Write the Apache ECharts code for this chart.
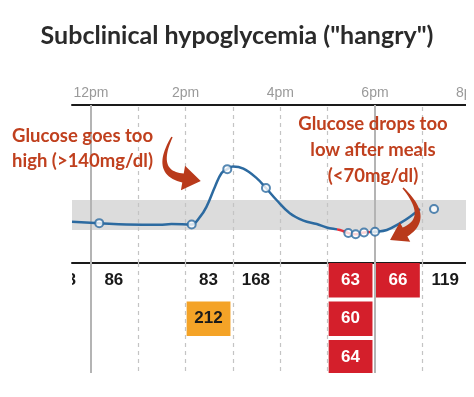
<!DOCTYPE html>
<html>
<head>
<meta charset="utf-8">
<title>Subclinical hypoglycemia</title>
<script src="https://cdn.jsdelivr.net/npm/echarts@6/dist/echarts.min.js"></script>
<style>
    * { margin: 0; padding: 0; }
    html, body { width: 100%; height: 100%; overflow: hidden; background: #fff; }
    .container { width: 474px; height: 397px; }
</style>
</head>
<body>
<div class="container"></div>
<script>
    // CGM trace: hour of day, mg/dl
    let cgmTimes = [11.6, 12.175, 12.75, 13.45, 13.7, 14.128, 14.3, 14.44, 14.62, 14.76, 14.88, 15.0, 15.22, 15.5, 15.697,
        15.92, 16.2, 16.49, 16.77, 16.98, 17.26, 17.436, 17.592, 17.768, 18.0, 18.25, 18.53, 18.74, 18.95];
    let cgmValues = [89, 86, 83, 82, 84, 83, 100, 124, 171, 203, 212, 218, 213, 191, 168,
        140, 109, 92, 84, 76, 70, 63, 60, 64, 66, 70, 86, 101, 119];
    // finger stick readings (circles + table below)
    let readingTimes = [11.5, 12.175, 14.128, 14.88, 15.697, 17.436, 17.592, 17.768, 18.0, 19.247];
    let readingValues = [88, 86, 83, 212, 168, 63, 60, 64, 66, 119];
    let hourLines = [12, 13, 14, 15, 16, 17, 18, 19];
    let solidHours = [12, 18];
    let labelHours = [12, 14, 16, 18, 20];
    let targetRange = [70, 140];

    const BLUE = '#2c6aa0', RED = '#d41f2b', ORANGE = '#f4a327', NOTE = '#c0401e';

    let chart = echarts.init(document.getElementsByClassName('container')[0], null, {renderer: 'canvas'});

    let cgm = cgmTimes.map((t, i) => [t, cgmValues[i]]);
    let readings = readingTimes.map((t, i) => [t, readingValues[i]]);

    // bin readings by hour, stacking rows inside an hour
    let cells = [];
    let rowCount = {};
    readingTimes.forEach((t, i) => {
        let h = Math.floor(t);
        rowCount[h] = (rowCount[h] || 0);
        cells.push([h, rowCount[h], readingValues[i]]);
        rowCount[h]++;
    });

    function vLines() {
        return {
            silent: true,
            symbol: 'none',
            label: {show: false},
            data: hourLines.map(h => ({
                xAxis: h,
                lineStyle: solidHours.includes(h)
                    ? {color: '#b4b4b4', width: 2, type: 'solid'}
                    : {color: '#c4c4c4', width: 1.2, type: [4, 4]}
            }))
        };
    }

    function arrowPoints(p0, c, p2, w0, w1, headLen, headHalf) {
        let left = [], right = [];
        for (let i = 0; i <= 24; i++) {
            let t = i / 24, u = 1 - t;
            let x = u * u * p0[0] + 2 * u * t * c[0] + t * t * p2[0];
            let y = u * u * p0[1] + 2 * u * t * c[1] + t * t * p2[1];
            let dx = 2 * u * (c[0] - p0[0]) + 2 * t * (p2[0] - c[0]);
            let dy = 2 * u * (c[1] - p0[1]) + 2 * t * (p2[1] - c[1]);
            let len = Math.hypot(dx, dy);
            let w = (w0 + (w1 - w0) * t) / 2;
            left.push([x - dy / len * w, y + dx / len * w]);
            right.push([x + dy / len * w, y - dx / len * w]);
        }
        let dx = p2[0] - c[0], dy = p2[1] - c[1], len = Math.hypot(dx, dy);
        dx /= len; dy /= len;
        let head = [
            [p2[0] - dy * headHalf, p2[1] + dx * headHalf],
            [p2[0] + dx * headLen, p2[1] + dy * headLen],
            [p2[0] + dy * headHalf, p2[1] - dx * headHalf]
        ];
        return left.concat(head, right.reverse());
    }

    let option = {
        backgroundColor: '#fff',
        animation: false,
        title: {
            text: 'Subclinical hypoglycemia ("hangry")',
            left: 'center',
            top: 18,
            textStyle: {fontFamily: 'Lato', fontWeight: 'bold', fontSize: 25, color: '#2a2a2a'}
        },
        grid: [
            {left: 72, right: 4.33, top: 105, height: 158, outerBoundsMode: 'none'},
            {left: 72, right: 4.33, top: 263, height: 110, outerBoundsMode: 'none'}
        ],
        xAxis: [{
            gridIndex: 0, type: 'value', min: 11.6, max: 20, position: 'top',
            axisLine: {onZero: false, lineStyle: {color: '#1a1a1a', width: 2}},
            axisTick: {show: false},
            splitLine: {show: false},
            axisLabel: {
                customValues: labelHours,
                formatter: v => (v > 12 ? v - 12 : v) + 'pm',
                color: '#9a9a9a', fontSize: 14, fontFamily: 'Liberation Sans', margin: 5
            }
        }, {
            gridIndex: 1, type: 'value', min: 11.6, max: 20, position: 'top',
            axisLine: {onZero: false, lineStyle: {color: '#1a1a1a', width: 2}},
            axisTick: {show: false}, axisLabel: {show: false}, splitLine: {show: false}
        }],
        yAxis: [
            {gridIndex: 0, type: 'value', min: -7, max: 361.67, show: false},
            {gridIndex: 1, type: 'value', min: 0, max: 110 / 38.5, inverse: true, show: false}
        ],
        visualMap: {
            type: 'piecewise', show: false, seriesIndex: 0, dimension: 0,
            pieces: [
                {lt: 17.19, color: BLUE},
                {gte: 17.19, lt: 17.9, color: '#e8313a'},
                {gte: 17.9, color: BLUE}
            ]
        },
        series: [{
            name: 'CGM',
            type: 'line',
            xAxisIndex: 0, yAxisIndex: 0,
            data: cgm,
            smooth: 0.4,
            symbol: 'none',
            lineStyle: {width: 2.5},
            z: 3,
            markArea: {
                silent: true, z: 0,
                itemStyle: {color: '#dcdcdc'},
                data: [[{yAxis: targetRange[0]}, {yAxis: targetRange[1]}]]
            },
            markLine: Object.assign(vLines(), {z: 1})
        }, {
            name: 'Finger stick',
            type: 'scatter',
            xAxisIndex: 0, yAxisIndex: 0,
            data: readings,
            symbol: 'circle',
            symbolSize: 8,
            itemStyle: {color: '#fff', borderColor: BLUE, borderWidth: 2},
            z: 4
        }, {
            name: 'Table',
            type: 'custom',
            xAxisIndex: 1, yAxisIndex: 1,
            data: cells,
            clip: true,
            renderItem: function (params, api) {
                let h = api.value(0), row = api.value(1), val = api.value(2);
                let p0 = api.coord([h, row]);
                let p1 = api.coord([h + 1, row + 1]);
                let x0 = p0[0] + 1, x1 = p1[0] - 2.5, y0 = p0[1], y1 = p1[1] - 4;
                let fill = val < 70 ? RED : (val > 180 ? ORANGE : null);
                let children = [];
                if (fill) {
                    children.push({
                        type: 'rect',
                        shape: {x: x0, y: y0, width: x1 - x0, height: y1 - y0},
                        style: {fill: fill}
                    });
                }
                children.push({
                    type: 'text',
                    x: (x0 + x1) / 2, y: (y0 + y1) / 2,
                    style: {
                        text: String(val), align: 'center', verticalAlign: 'middle',
                        fontFamily: 'Liberation Sans', fontWeight: 'bold', fontSize: 17,
                        fill: val < 70 ? '#fff' : '#1a1a1a'
                    }
                });
                return {type: 'group', children: children};
            },
            markLine: Object.assign(vLines(), {z: 3})
        }],
        graphic: [{
            type: 'rect', z: 100,
            shape: {x: 466, y: 80, width: 10, height: 300},
            style: {fill: '#fff'}
        }, {
            type: 'text', z: 101, x: 12, y: 124,
            style: {
                text: 'Glucose goes too\nhigh (>140mg/dl)',
                fontFamily: 'Lato', fontWeight: 'bold', fontSize: 18.5, lineHeight: 25,
                fill: NOTE, align: 'left', verticalAlign: 'top'
            }
        }, {
            type: 'text', z: 101, x: 373, y: 111,
            style: {
                text: 'Glucose drops too\nlow after meals\n(<70mg/dl)',
                fontFamily: 'Lato', fontWeight: 'bold', fontSize: 18.5, lineHeight: 26,
                fill: NOTE, align: 'center', verticalAlign: 'top'
            }
        }, {
            type: 'polygon', z: 101,
            shape: {points: arrowPoints([172, 137], [153, 173], [183, 178], 1.5, 9, 18, 12.5)},
            style: {fill: '#b93a1b'}
        }, {
            type: 'polygon', z: 101,
            shape: {points: arrowPoints([403, 188], [431, 218], [405, 232], 1.5, 10, 17, 11)},
            style: {fill: '#b93a1b'}
        }]
    };
    chart.setOption(option);
</script>
</body>
</html>
